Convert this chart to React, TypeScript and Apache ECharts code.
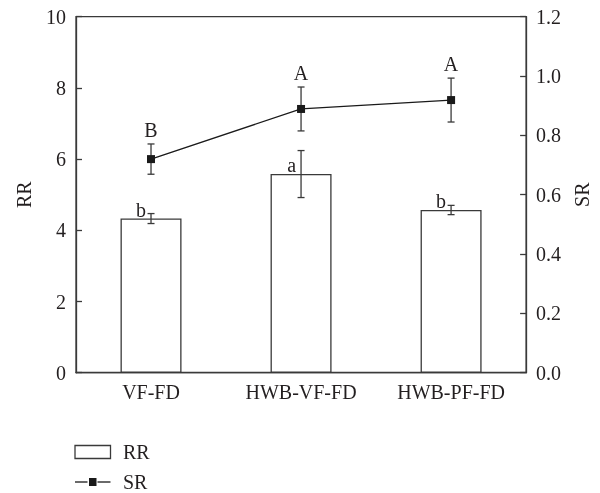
import React, { useEffect, useRef } from "react";
import * as echarts from "echarts";

const categories = ["VF-FD", "HWB-VF-FD", "HWB-PF-FD"];
const rrValues = [4.33, 5.58, 4.57];
const rrErrors = [0.14, 0.66, 0.13];
const rrLetters = ["b", "a", "b"];
const srValues = [0.72, 0.889, 0.919];
const srErrors = [0.051, 0.074, 0.074];
const srLetters = ["B", "A", "A"];
const seriesNames = ["RR", "SR"];
const rrTicks = { min: 0, max: 10, interval: 2 };
const srTicks = { min: 0, max: 1.2, interval: 0.2 };

const FONT = '"Liberation Serif", "DejaVu Serif", serif';
const INK = "#231f20";
const AXIS = "#3a3a3a";

export default function App() {
  const ref = useRef<HTMLDivElement>(null);
  useEffect(() => {
    if (!ref.current) return;
    document.body.style.margin = "0";
    document.documentElement.style.overflow = "hidden";
    document.body.style.overflow = "hidden";
    const chart = echarts.init(ref.current, null, { renderer: "svg" });

    const makeErr = (letters: string[], upper: boolean) =>
      function renderItem(params: any, api: any) {
        const i = api.value(0);
        const mean = api.value(1);
        const err = api.value(2);
        const hi = api.coord([i, mean + err]);
        const lo = api.coord([i, mean - err]);
        const top = api.coord([i, mean]);
        const x = hi[0];
        const cap = 3.5;
        const ls = { stroke: AXIS, lineWidth: 1.3 };
        const children: any[] = [
          { type: "line", shape: { x1: x, y1: hi[1], x2: x, y2: lo[1] }, style: ls },
          { type: "line", shape: { x1: x - cap, y1: hi[1], x2: x + cap, y2: hi[1] }, style: ls },
          { type: "line", shape: { x1: x - cap, y1: lo[1], x2: x + cap, y2: lo[1] }, style: ls },
        ];
        const letter = letters[params.dataIndex];
        if (upper) {
          children.push({
            type: "text",
            style: {
              text: letter,
              x: x,
              y: hi[1] - 4,
              align: "center",
              verticalAlign: "bottom",
              font: `20px ${FONT}`,
              fill: INK,
            },
          });
        } else {
          children.push({
            type: "text",
            style: {
              text: letter,
              x: x - 5,
              y: top[1] + 1,
              align: "right",
              verticalAlign: "bottom",
              font: `20px ${FONT}`,
              fill: INK,
            },
          });
        }
        return { type: "group", children };
      };

    const legendText = (name: string, y: number) => ({
      type: "text",
      style: {
        text: name,
        x: 123,
        y,
        align: "left",
        verticalAlign: "middle",
        font: `20px ${FONT}`,
        fill: INK,
      },
    });

    const y1 = 452;
    const y2 = 482;

    chart.setOption({
      animation: false,
      textStyle: { fontFamily: FONT, color: INK },
      grid: {
        left: 76,
        right: 70.5,
        top: 16.7,
        bottom: 120.3,
        show: true,
        borderColor: AXIS,
        borderWidth: 1.3,
        backgroundColor: "transparent",
      },
      graphic: [
        {
          type: "rect",
          shape: { x: 75, y: y1 - 6.5, width: 35.5, height: 13 },
          style: { fill: "#ffffff", stroke: AXIS, lineWidth: 1.3 },
        },
        legendText(seriesNames[0], y1),
        {
          type: "line",
          shape: { x1: 75, y1: y2, x2: 87.5, y2: y2 },
          style: { stroke: "#1a1a1a", lineWidth: 1.3 },
        },
        {
          type: "line",
          shape: { x1: 97.5, y1: y2, x2: 110.5, y2: y2 },
          style: { stroke: "#1a1a1a", lineWidth: 1.3 },
        },
        {
          type: "rect",
          shape: { x: 89, y: y2 - 4, width: 7.5, height: 8 },
          style: { fill: "#1a1a1a" },
        },
        legendText(seriesNames[1], y2),
      ],
      xAxis: {
        type: "category",
        data: categories,
        axisLine: { lineStyle: { color: AXIS, width: 1.3 } },
        axisTick: { show: false },
        axisLabel: { fontFamily: FONT, fontSize: 20, color: INK, margin: 9 },
      },
      yAxis: [
        {
          type: "value",
          ...rrTicks,
          name: seriesNames[0],
          nameLocation: "middle",
          nameGap: 42,
          nameRotate: 90,
          nameTextStyle: { fontFamily: FONT, fontSize: 20, color: INK },
          splitLine: { show: false },
          axisLine: { show: true, lineStyle: { color: AXIS, width: 1.3 } },
          axisTick: { show: true, inside: true, length: 6, lineStyle: { color: AXIS, width: 1.3 } },
          axisLabel: { fontFamily: FONT, fontSize: 20, color: INK, margin: 10 },
        },
        {
          type: "value",
          ...srTicks,
          name: seriesNames[1],
          nameLocation: "middle",
          nameGap: 45,
          nameRotate: 90,
          nameTextStyle: { fontFamily: FONT, fontSize: 20, color: INK },
          splitLine: { show: false },
          axisLine: { show: true, lineStyle: { color: AXIS, width: 1.3 } },
          axisTick: { show: true, inside: true, length: 6, lineStyle: { color: AXIS, width: 1.3 } },
          axisLabel: {
            fontFamily: FONT,
            fontSize: 20,
            color: INK,
            margin: 10,
            formatter: (v: number) => v.toFixed(1),
          },
        },
      ],
      series: [
        {
          name: seriesNames[0],
          type: "bar",
          yAxisIndex: 0,
          barWidth: 61,
          data: rrValues,
          itemStyle: { color: "#ffffff", borderColor: AXIS, borderWidth: 1.3 },
        },
        {
          name: "RRerr",
          type: "custom",
          yAxisIndex: 0,
          z: 5,
          renderItem: makeErr(rrLetters, false),
          data: rrValues.map((v, i) => [i, v, rrErrors[i]]),
        },
        {
          name: seriesNames[1],
          type: "line",
          yAxisIndex: 1,
          data: srValues,
          symbol: "rect",
          symbolSize: 8,
          itemStyle: { color: "#1a1a1a" },
          lineStyle: { color: "#1a1a1a", width: 1.3 },
          z: 6,
        },
        {
          name: "SRerr",
          type: "custom",
          yAxisIndex: 1,
          z: 5,
          renderItem: makeErr(srLetters, true),
          data: srValues.map((v, i) => [i, v, srErrors[i]]),
        },
      ],
    });
    return () => chart.dispose();
  }, []);
  return (
    <div
      ref={ref}
      style={{ position: "fixed", left: 0, top: 0, width: 600, height: 493 }}
    />
  );
}
